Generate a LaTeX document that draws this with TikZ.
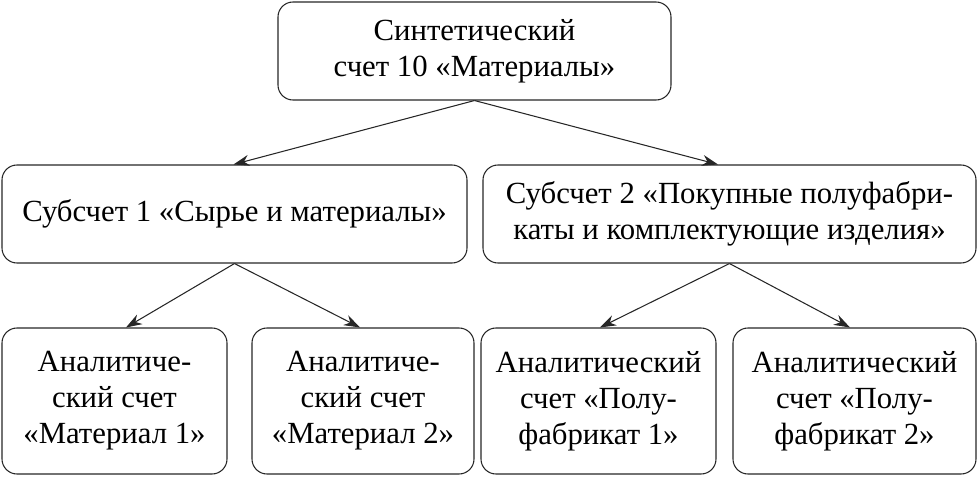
\documentclass[tikz,border=0pt]{standalone}
\usepackage{fontspec}
\setmainfont{Liberation Serif}
\usetikzlibrary{positioning, arrows.meta}

\begin{document}
\begin{tikzpicture}[semithick,
  acc node/.style={draw=black!85, rounded corners=0.3cm, align=center,
    font=\fontsize{17.5}{20.5}\selectfont, inner sep=0pt},
  link/.style={-{Stealth[length=3.2mm,width=2.2mm]}, draw=black!85}]
\useasboundingbox (0,0) rectangle (19.56,9.52);

\node[acc node, minimum width=7.86cm, minimum height=1.96cm] (syn) at (9.49,8.50)
  {Синтетический\\счет 10 «Материалы»};
\node[acc node, minimum width=9.3cm, minimum height=1.96cm] (sub1) at (4.69,5.24)
  {Субсчет 1 «Сырье и материалы»};
\node[acc node, minimum width=9.86cm, minimum height=1.96cm] (sub2) at (14.59,5.24)
  {Субсчет 2 «Покупные полуфабри-\\каты и комплектующие изделия»};

\node[acc node, minimum width=4.5cm, minimum height=2.92cm] (an1) at (2.29,1.50)
  {Аналитиче-\\ский счет\\«Материал 1»};
\node[acc node, minimum width=4.44cm, minimum height=2.92cm] (an2) at (7.26,1.50)
  {Аналитиче-\\ский счет\\«Материал 2»};
\node[acc node, minimum width=4.7cm, minimum height=2.92cm] (an3) at (11.97,1.50)
  {Аналитический\\счет «Полу-\\фабрикат 1»};
\node[acc node, minimum width=4.86cm, minimum height=2.92cm] (an4) at (17.09,1.50)
  {Аналитический\\счет «Полу-\\фабрикат 2»};

\draw[link] (syn.south) -- ([xshift=-0.02cm]sub1.north);
\draw[link] (syn.south) -- ([xshift=-0.23cm]sub2.north);
\draw[link] (sub1.south) -- ([xshift=0.23cm]an1.north);
\draw[link] (sub1.south) -- ([xshift=-0.06cm]an2.north);
\draw[link] (sub2.south) -- ([xshift=0.03cm]an3.north);
\draw[link] (sub2.south) -- ([xshift=-0.09cm]an4.north);

\end{tikzpicture}
\end{document}
